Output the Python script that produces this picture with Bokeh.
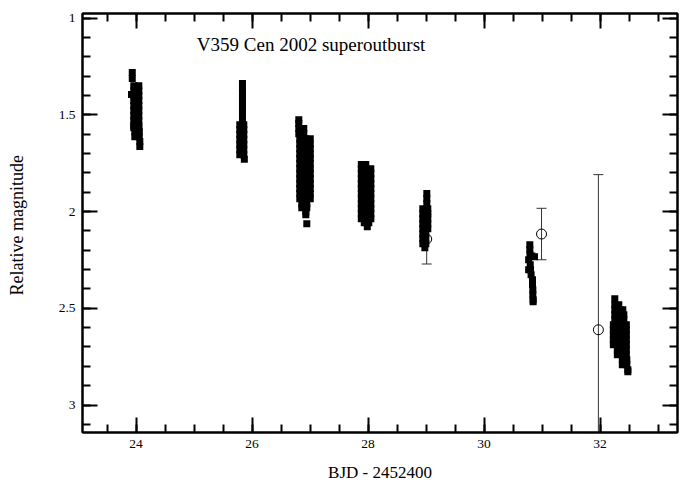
from bokeh.plotting import figure
from bokeh.models import (Range1d, LinearAxis, SingleIntervalTicker,
                          CustomJSTickFormatter, CustomLabelingPolicy, Label,
                          ColumnDataSource)
from bokeh.embed import file_html
from bokeh.resources import INLINE

FONT = "Liberation Serif"

title_text = "V359 Cen 2002 superoutburst"
x_label = "BJD - 2452400"
y_label = "Relative  magnitude"

# ---- photometry per night (time, magnitude) ----
t1 = [23.934, 23.934, 23.921,
      23.960, 24.047, 23.960, 24.047, 23.960, 24.047, 23.960, 24.047, 23.960, 24.047,
      23.960, 24.047, 23.960, 24.047, 23.960, 24.047, 23.960, 24.047, 23.960, 24.047,
      23.978, 24.055, 23.978, 24.055, 24.064, 24.064]
m1 = [1.281, 1.312, 1.395,
      1.349, 1.349, 1.375, 1.375, 1.400, 1.400, 1.426, 1.426, 1.452, 1.452,
      1.478, 1.478, 1.504, 1.504, 1.530, 1.530, 1.556, 1.556, 1.566, 1.566,
      1.587, 1.587, 1.613, 1.613, 1.638, 1.664]

t2 = [25.834, 25.834, 25.834, 25.834, 25.834, 25.834, 25.834, 25.834,
      25.788, 25.857, 25.788, 25.857, 25.788, 25.857, 25.788, 25.857,
      25.788, 25.857, 25.788, 25.857, 25.788, 25.857, 25.866]
m2 = [1.338, 1.364, 1.390, 1.416, 1.442, 1.468, 1.494, 1.519,
      1.551, 1.551, 1.576, 1.576, 1.602, 1.602, 1.628, 1.628,
      1.654, 1.654, 1.680, 1.680, 1.706, 1.706, 1.729]

t3 = [26.805, 26.805,
      26.805, 26.891, 26.805, 26.891,
      26.822, 26.917, 27.003, 26.822, 26.917, 27.003, 26.822, 26.917, 27.003,
      26.822, 26.917, 27.003, 26.822, 26.917, 27.003, 26.822, 26.917, 27.003,
      26.822, 26.917, 27.003, 26.822, 26.917, 27.003, 26.822, 26.917, 27.003,
      26.822, 26.917, 27.003, 26.822, 26.917, 27.003, 26.822, 26.917, 27.003,
      26.822, 26.917, 27.003,
      26.857, 26.943, 26.857, 26.943,
      26.926, 26.926, 26.943]
m3 = [1.525, 1.545,
      1.571, 1.571, 1.597, 1.597,
      1.623, 1.623, 1.623, 1.649, 1.649, 1.649, 1.675, 1.675, 1.675,
      1.701, 1.701, 1.701, 1.726, 1.726, 1.726, 1.752, 1.752, 1.752,
      1.778, 1.778, 1.778, 1.804, 1.804, 1.804, 1.830, 1.830, 1.830,
      1.856, 1.856, 1.856, 1.881, 1.881, 1.881, 1.907, 1.907, 1.907,
      1.933, 1.933, 1.933,
      1.959, 1.959, 1.980, 1.980,
      2.001, 2.016, 2.063]

t4 = [27.883, 27.960,
      27.883, 27.960, 28.047, 27.883, 27.960, 28.047, 27.883, 27.960, 28.047,
      27.883, 27.960, 28.047, 27.883, 27.960, 28.047, 27.883, 27.960, 28.047,
      27.883, 27.960, 28.047, 27.883, 27.960, 28.047, 27.883, 27.960, 28.047,
      27.883, 27.960, 28.047, 27.883, 27.960, 28.047,
      27.934, 28.012, 27.986]
m4 = [1.757, 1.757,
      1.778, 1.778, 1.778, 1.804, 1.804, 1.804, 1.830, 1.830, 1.830,
      1.856, 1.856, 1.856, 1.881, 1.881, 1.881, 1.907, 1.907, 1.907,
      1.933, 1.933, 1.933, 1.959, 1.959, 1.959, 1.985, 1.985, 1.985,
      2.011, 2.011, 2.011, 2.037, 2.037, 2.037,
      2.058, 2.058, 2.078]

t5 = [29.012, 29.012, 29.012,
      28.943, 29.029, 28.943, 29.029, 28.943, 29.029, 28.943, 29.029,
      28.943, 29.029, 28.943, 28.995, 28.943, 28.995, 28.943, 28.995,
      28.978]
m5 = [1.907, 1.933, 1.959,
      1.985, 1.985, 2.011, 2.011, 2.037, 2.037, 2.063, 2.063,
      2.089, 2.089, 2.114, 2.114, 2.140, 2.140, 2.166, 2.166,
      2.187]

t6 = [30.788, 30.788, 30.869, 30.822, 30.790, 30.768, 30.795, 30.768,
      30.800, 30.810, 30.834, 30.834, 30.840, 30.840, 30.845, 30.845]
m6 = [2.171, 2.197, 2.233, 2.230, 2.223, 2.249, 2.275, 2.301,
      2.301, 2.326, 2.352, 2.378, 2.404, 2.430, 2.456, 2.466]

t7 = [32.253,
      32.253, 32.322,
      32.253, 32.340, 32.391,
      32.253, 32.322, 32.409,
      32.253, 32.322, 32.409,
      32.228, 32.314, 32.391, 32.452, 32.228, 32.314, 32.391, 32.452,
      32.228, 32.314, 32.391, 32.452, 32.228, 32.314, 32.391, 32.452,
      32.228, 32.314, 32.391, 32.452,
      32.297, 32.383, 32.452, 32.297, 32.383, 32.452,
      32.383, 32.460, 32.383, 32.460,
      32.478, 32.478]
m7 = [2.451,
      2.482, 2.482,
      2.508, 2.508, 2.508,
      2.533, 2.533, 2.533,
      2.559, 2.559, 2.559,
      2.585, 2.585, 2.585, 2.585, 2.611, 2.611, 2.611, 2.611,
      2.637, 2.637, 2.637, 2.637, 2.663, 2.663, 2.663, 2.663,
      2.689, 2.689, 2.689, 2.689,
      2.714, 2.714, 2.714, 2.740, 2.740, 2.740,
      2.766, 2.766, 2.792, 2.792,
      2.818, 2.828]

# ---- nightly means with error bars (open circles) ----
mean_t = [29.010, 30.990, 31.970]
mean_m = [2.142, 2.116, 2.611]
mean_err = [0.129, 0.133, 0.802]

X0, X1 = 23.076, 33.334
Y0, Y1 = 3.142, 0.976

p = figure(width=691, height=484, output_backend="svg", toolbar_location=None,
           x_range=Range1d(X0, X1), y_range=Range1d(Y0, Y1),
           x_axis_location=None, y_axis_location=None,
           min_border_left=82, min_border_right=14, min_border_top=13,
           min_border_bottom=52)
p.grid.visible = False
p.outline_line_color = "black"
p.outline_line_width = 2
p.background_fill_color = "white"
p.border_fill_color = "white"

hide_all = CustomLabelingPolicy(code="""
    const r = indices.clone()
    for (const i of indices) { r.unset(i) }
    return r
""")


def style_axis(ax, labels=True):
    ax.axis_line_width = 2
    ax.axis_line_color = "black"
    ax.major_tick_in = 15
    ax.major_tick_out = 0
    ax.minor_tick_in = 8
    ax.minor_tick_out = 0
    ax.major_tick_line_width = 2
    ax.minor_tick_line_width = 2
    ax.major_tick_line_color = "black"
    ax.minor_tick_line_color = "black"
    ax.major_label_text_font = FONT
    ax.major_label_text_color = "black"
    ax.axis_label_text_font = FONT
    ax.axis_label_text_font_style = "normal"
    ax.axis_label_text_color = "black"
    ax.axis_label_text_font_size = "17px"
    if labels:
        ax.major_label_text_font_size = "13.5px"
    else:
        ax.major_label_text_font_size = "0px"
        ax.major_label_standoff = 0
        ax.major_label_policy = hide_all


fmt = CustomJSTickFormatter(code="return String(Math.round(tick*10)/10);")

xb = LinearAxis(ticker=SingleIntervalTicker(interval=2, num_minor_ticks=4),
                axis_label=x_label)
style_axis(xb)
xb.major_label_standoff = 7
xb.axis_label_standoff = 12
p.add_layout(xb, "below")

xt = LinearAxis(ticker=SingleIntervalTicker(interval=2, num_minor_ticks=4))
style_axis(xt, labels=False)
p.add_layout(xt, "above")

yl = LinearAxis(ticker=SingleIntervalTicker(interval=0.5, num_minor_ticks=5),
                axis_label=y_label, formatter=fmt)
style_axis(yl)
yl.axis_label_text_font_size = "18px"
yl.major_label_standoff = 7
yl.axis_label_standoff = 29
p.add_layout(yl, "left")

yr = LinearAxis(ticker=SingleIntervalTicker(interval=0.5, num_minor_ticks=5))
style_axis(yr, labels=False)
p.add_layout(yr, "right")

# error bars and open circles
up = [m - e for m, e in zip(mean_m, mean_err)]
lo = [m + e for m, e in zip(mean_m, mean_err)]
src = ColumnDataSource(dict(t=mean_t, m=mean_m, up=up, lo=lo))
p.segment(x0="t", y0="up", x1="t", y1="lo", source=src,
          line_color="#333333", line_width=1)
p.scatter(x="t", y="up", source=src, marker="dash", size=10,
          line_color="#333333", line_width=1)
p.scatter(x="t", y="lo", source=src, marker="dash", size=10,
          line_color="#333333", line_width=1)
p.scatter(x="t", y="m", source=src, marker="circle", size=10,
          fill_color=None, line_color="black", line_width=1)

for tt, mm in [(t1, m1), (t2, m2), (t3, m3), (t4, m4), (t5, m5), (t6, m6), (t7, m7)]:
    p.scatter(x=tt, y=mm, marker="square", size=7, fill_color="black",
              line_color=None)

p.add_layout(Label(x=25.047, y=1.137, text=title_text, text_font=FONT,
                   text_font_size="19px", text_color="black",
                   text_baseline="alphabetic", text_align="left"))

open("out.html", "w").write(file_html(p, INLINE))
